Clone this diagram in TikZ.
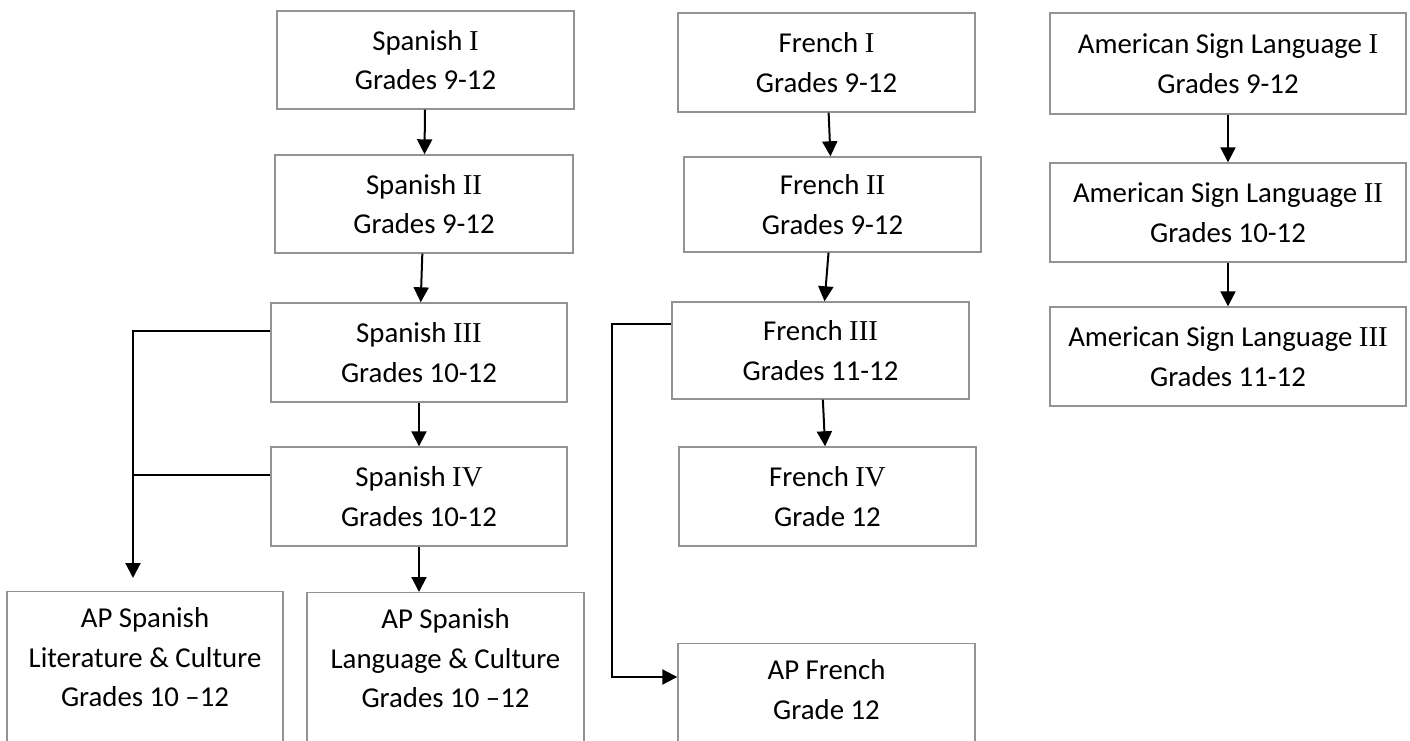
\documentclass[tikz,border=0pt]{standalone}
\usepackage{fontspec}
\setmainfont{Carlito}
\newfontfamily\romfont{Liberation Serif}
\newcommand{\rmn}[1]{{\romfont #1}}
\usetikzlibrary{arrows.meta}
\tikzstyle{box} = [rectangle, draw=gray!85, line width=0.7pt, minimum width=148.5pt, minimum height=49pt, align=center, font=\fontsize{14.4pt}{19.75pt}\selectfont]
\tikzstyle{apbox} = [box, anchor=north, inner ysep=8pt]
\tikzstyle{arrow} = [line width=1pt,-{Triangle[length=7.5pt,width=7.5pt]}]
\tikzstyle{link} = [line width=1pt]

\begin{document}
\begin{tikzpicture}[x=0.5pt, y=-0.5pt]
            \path[use as bounding box, clip] (0,0) rectangle (1410,740);

            % Spanish
            \node (sp1)    [box] at (425.5,60)  {Spanish \rmn{I}\\Grades 9-12};
            \node (sp2)    [box, minimum width=149pt] at (424,204) {Spanish \rmn{II}\\Grades 9-12};
            \node (sp3)    [box, minimum width=148pt, minimum height=49.5pt] at (419,352.5) {Spanish \rmn{III}\\Grades 10-12};
            \node (sp4)    [box, minimum width=148pt, minimum height=49.5pt] at (419,496.5) {Spanish \rmn{IV}\\Grades 10-12};
            \node (aplit)  [apbox, minimum width=138pt] at (145,591) {AP Spanish\\Literature \& Culture\\Grades 10 –12\\[40pt]\mbox{}};
            \node (aplang) [apbox, minimum width=138.5pt] at (445.5,592) {AP Spanish\\Language \& Culture\\Grades 10 –12\\[40pt]\mbox{}};

            % French
            \node (fr1)    [box, minimum height=49.5pt] at (826.5,62.5) {French \rmn{I}\\Grades 9-12};
            \node (fr2)    [box, minimum height=47.5pt] at (832.5,204.5) {French \rmn{II}\\Grades 9-12};
            \node (fr3)    [box, minimum height=48.5pt] at (820.5,350.5) {French \rmn{III}\\Grades 11-12};
            \node (fr4)    [box, minimum height=49.5pt] at (827.5,496.5) {French \rmn{IV}\\Grade 12};
            \node (apfr)   [apbox] at (826.5,643) {AP French\\Grade 12\\[60pt]\mbox{}};

            % American Sign Language
            \node (asl1)   [box, minimum width=178pt, minimum height=50.5pt] at (1228,63.5) {American Sign Language \rmn{I}\\Grades 9-12};
            \node (asl2)   [box, minimum width=178pt, minimum height=49.5pt] at (1228,212.5) {American Sign Language \rmn{II}\\Grades 10-12};
            \node (asl3)   [box, minimum width=178pt, minimum height=49.5pt] at (1228,356.5) {American Sign Language \rmn{III}\\Grades 11-12};

            \coordinate (spj) at (133,331);
            \coordinate (sp4w) at ([yshift=10.75pt]sp4.west);
            \coordinate (frj) at (612,324);

            \draw [arrow] (sp1) -- (sp2);
            \draw [arrow] (sp2) -- (sp3);
            \draw [arrow] (sp3) -- (sp4);
            \draw [arrow] (sp4.south) -- (sp4.south |- aplang.north);
            \draw [arrow, shorten >=6.5pt] ([yshift=10.75pt]sp3.west) -- (spj) -- (spj |- aplit.north);
            \draw [link]  (sp4w) -- (sp4w -| spj);

            \draw [arrow] (fr1) -- (fr2);
            \draw [arrow] (fr2) -- (fr3);
            \draw [arrow] (fr3) -- (fr4);
            \draw [arrow] ([yshift=13.25pt]fr3.west) -- (frj) |- ([yshift=-17pt]apfr.north west);

            \draw [arrow] (asl1) -- (asl2);
            \draw [arrow] (asl2) -- (asl3);
        \end{tikzpicture}
\end{document}
